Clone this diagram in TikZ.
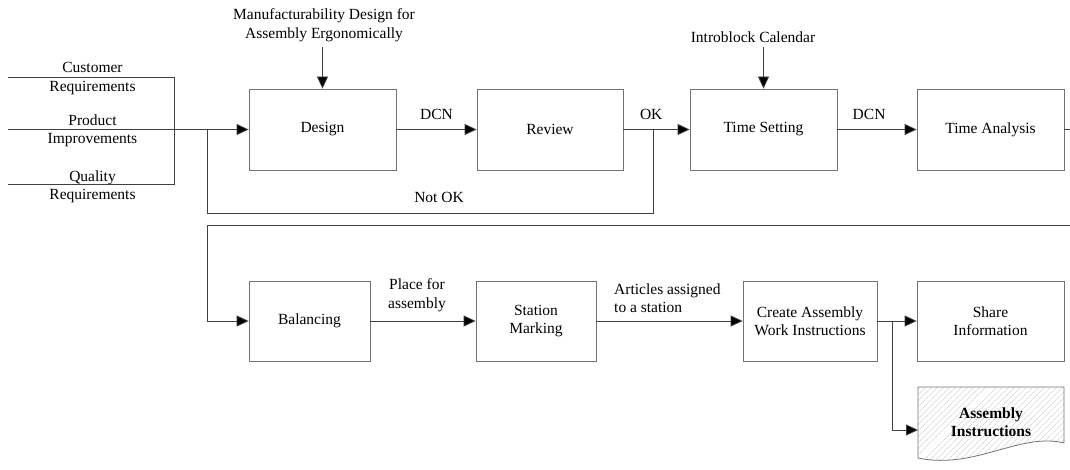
\documentclass[tikz,border=0pt]{standalone}
\usepackage{fontspec}
\setmainfont{Liberation Serif}
\newfontfamily\tmsfont{Liberation Serif}
\newfontfamily\tmsbold{Liberation Serif Bold}
\usetikzlibrary{arrows.meta,patterns.meta}
\tikzset{
  txt/.style={font=\tmsfont\fontsize{15.5}{18.5}\selectfont, inner sep=0pt, align=center},
  procbox/.style={draw=black!55, line width=0.8pt, minimum height=81pt, txt},
  conn/.style={draw=black!75, line width=0.8pt},
  arr/.style={conn, -{Triangle[length=12pt,width=11pt,fill=black]}},
  doclabel/.style={txt, font=\tmsbold\fontsize{15.5}{18.5}\selectfont}
}
\begin{document}
\begin{tikzpicture}[x=1pt,y=-1pt]
\useasboundingbox (0,0) rectangle (1070,470);
% process boxes
\node[procbox, minimum width=147pt] (design) at (322.5,129.5) {Design};
\node[procbox, minimum width=146pt] (review) at (550,129.5) {Review};
\node[procbox, minimum width=147pt] (timeset) at (763.5,129.5) {Time Setting};
\node[procbox, minimum width=147pt] (timean) at (990.5,129.5) {Time Analysis};
\node[procbox, minimum width=121pt, minimum height=80pt] (balancing) at (309.5,321) {Balancing};
\node[procbox, minimum width=120pt, minimum height=80pt] (station) at (536,321) {Station\\Marking};
\node[procbox, minimum width=134pt, minimum height=80pt] (create) at (810,321) {Create Assembly\\Work Instructions};
\node[procbox, minimum width=147pt, minimum height=80pt] (share) at (990.5,321) {Share\\Information};
% document shape
\path[draw=black!55, line width=0.8pt, pattern={Lines[angle=45,distance=4pt,line width=0.5pt]}, pattern color=black!22]
  (918,387) -- (1064,387) -- (1064,443) .. controls (1020,432) and (975,470) .. (918,458) -- cycle;
\node[doclabel] (doc) at (991,422) {Assembly\\Instructions};
\coordinate (docin) at (918,430);
% input labels
\node[txt] (cust) at (92.5,78.5) {Customer\\Requirements};
\node[txt] (prod) at (92.5,131) {Product\\Improvements};
\node[txt] (qual) at (92.5,187) {Quality\\Requirements};
\node[txt] (manu) at (324,25) {Manufacturability Design for\\Assembly Ergonomically};
\node[txt] (intro) at (753,37) {Introblock Calendar};
% input bracket
\coordinate (c1) at (8,77);
\coordinate (c2) at (174,77);
\coordinate (c3) at (174,184);
\coordinate (c4) at (8,184);
\draw[conn] (c1) -- (c2) -- (c3) -- (c4);
\coordinate (inL) at (8,129.5);
\draw[arr] (inL) -- (design.west);
\coordinate (mtop) at (design.north |- 0,47);
\draw[arr] (mtop) -- (design.north);
\coordinate (itop) at (timeset.north |- 0,47);
\draw[arr] (itop) -- (timeset.north);
% main flow row 1
\draw[arr] (design) -- node[txt, above=9pt] (dcn1) {DCN} (review);
\draw[arr] (review) -- node[txt, pos=0.42, above=9pt] (ok) {OK} (timeset);
\draw[arr] (timeset) -- node[txt, pos=0.4, above=9pt] (dcn2) {DCN} (timean);
\coordinate (okb) at (653,129.5);
\coordinate (okd) at (653,213);
\coordinate (nl) at (207,213);
\coordinate (nu) at (207,129.5);
\draw[conn] (okb) -- (okd) -- (nl) -- (nu);
\node[txt] (notok) at (439,197) {Not OK};
\coordinate (stub) at (1070,129.5);
\draw[conn] (timean.east) -- (stub);
% separator and return
\coordinate (sepR) at (1070,225);
\coordinate (sepL) at (207,225);
\coordinate (sepD) at (207,321);
\draw[conn] (sepR) -- (sepL) -- (sepD);
\draw[arr] (sepD) -- (balancing.west);
% row 2
\draw[arr] (balancing) -- (station);
\node[txt] (place) at (417,295) {Place for\\assembly};
\draw[arr] (station) -- (create);
\node[txt, align=left, anchor=west] (articles) at (614,298) {Articles assigned\\to a station};
\coordinate (br) at (892,321);
\coordinate (bd) at (892,430);
\draw[conn] (create.east) -- (br);
\draw[arr] (br) -- (share.west);
\draw[arr] (br) -- (bd) -- (docin);
\end{tikzpicture}
\end{document}
